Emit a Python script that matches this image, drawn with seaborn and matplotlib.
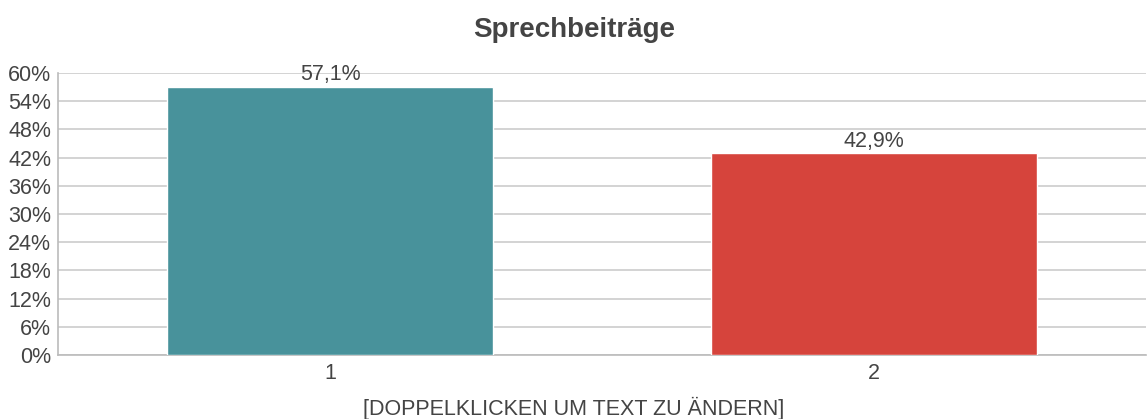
import matplotlib
matplotlib.use("Agg")
import matplotlib.pyplot as plt
import seaborn as sns
import pandas as pd
from matplotlib.ticker import FuncFormatter, MultipleLocator

categories = ["1", "2"]
values = [57.1, 42.9]
labels = ["57,1%", "42,9%"]
colors = ["#48929B", "#D6443C"]
title = "Sprechbeiträge"
xlabel = "[DOPPELKLICKEN UM TEXT ZU ÄNDERN]"

sns.set_theme(style="white")
plt.rcParams["font.family"] = ["Liberation Sans", "DejaVu Sans"]
text_color = "#444444"
fs = 15.5

df = pd.DataFrame({"cat": categories, "val": values})

fig = plt.figure(figsize=(11.48, 4.19), dpi=100)
ax = fig.add_axes([58/1148, 1-355/419, 1088/1148, (355-73)/419])

sns.barplot(data=df, x="cat", y="val", hue="cat", palette=colors, width=0.6,
            legend=False, ax=ax, saturation=1, zorder=3)

ax.set_xlim(-0.5, 1.5)
ax.set_ylim(0, 60)
ax.yaxis.set_major_locator(MultipleLocator(6))
ax.yaxis.set_major_formatter(FuncFormatter(lambda v, p: f"{int(round(v))}%"))
ax.grid(axis="y", color="#cccccc", linewidth=1.2, zorder=0)
ax.set_axisbelow(True)

for s in ["top", "right"]:
    ax.spines[s].set_visible(False)
for s in ["left", "bottom"]:
    ax.spines[s].set_color("#bbbbbb")
    ax.spines[s].set_linewidth(1.2)

ax.tick_params(axis="y", labelsize=fs, colors=text_color, length=0, pad=5)
ax.tick_params(axis="x", labelsize=fs, colors=text_color, length=0, pad=6)
for t in ax.get_yticklabels() + ax.get_xticklabels():
    t.set_color(text_color)

for i, (v, lab) in enumerate(zip(values, labels)):
    ax.text(i, v + 0.3, lab, ha="center", va="bottom", fontsize=fs, color=text_color)

ax.set_xlabel("")
ax.set_ylabel("")
fig.text(0.5, 1 - 408/419, xlabel, ha="center", va="center",
         fontsize=fs, color=text_color)
fig.text(0.5, 1 - 30/419, title, ha="center", va="center",
         fontsize=20, fontweight="bold", color=text_color)

fig.savefig("out.png", dpi=100)
